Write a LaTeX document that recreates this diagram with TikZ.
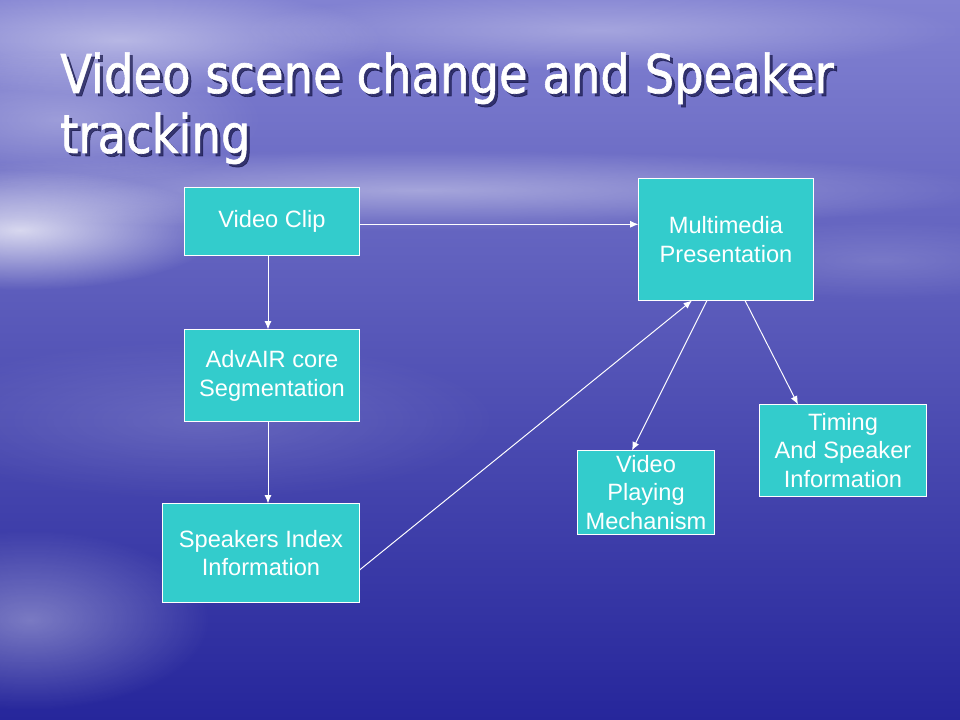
\documentclass[tikz,border=0pt]{standalone}
\usepackage{fontspec}
\setmainfont{Liberation Sans}
\newfontfamily\titlefont{DejaVu Sans}[FakeBold=1.2]
\usetikzlibrary{arrows.meta,fadings}

\definecolor{boxteal}{RGB}{51,204,204}
\definecolor{skytop}{RGB}{130,130,210}
\definecolor{skymid}{RGB}{66,66,182}
\definecolor{seabot}{RGB}{38,38,155}
\definecolor{titleshade}{RGB}{20,20,70}

\tikzfading[name=soft glow, inner color=transparent!0, outer color=transparent!100]

\tikzset{
  box/.style={draw=white, line width=0.7pt, fill=boxteal, text=white, align=center,
    inner sep=0pt, font=\fontsize{16.8}{20.5}\selectfont},
  link/.style={draw=white, line width=0.7pt, -{Latex[length=6pt,width=5pt]}},
  titleline/.style={anchor=base west, inner sep=0pt, font=\titlefont\fontsize{38}{40}\selectfont},
  cloud/.style={fill=white, path fading=soft glow},
}

\begin{document}
\begin{tikzpicture}[x=0.025cm,y=-0.025cm]
  % sky and sea
  \path[top color=skytop, middle color=skymid, bottom color=seabot] (0,0) rectangle (960,720);
  \useasboundingbox (0,0) rectangle (960,720);

  \fill[cloud, opacity=0.45] (120,40) ellipse [x radius=260, y radius=55];
  \fill[cloud, opacity=0.30] (600,30) ellipse [x radius=360, y radius=40];
  \fill[cloud, opacity=0.40] (420,190) ellipse [x radius=580, y radius=40];
  \fill[cloud, opacity=0.75] (20,230) ellipse [x radius=200, y radius=60];
  \fill[cloud, opacity=0.30] (60,120) ellipse [x radius=200, y radius=70];
  \fill[cloud, opacity=0.35] (30,620) ellipse [x radius=180, y radius=90];
  \fill[cloud, opacity=0.15] (200,420) ellipse [x radius=300, y radius=80];
  \fill[cloud, opacity=0.15] (880,260) ellipse [x radius=200, y radius=40];

  % title
  \node[titleline, text=titleshade, opacity=0.7] (t1s) at (63,96) {\scalebox{0.87}[1]{Video scene change and Speaker}};
  \node[titleline, text=titleshade, opacity=0.7] (t2s) at (63,156) {\scalebox{0.87}[1]{tracking}};
  \node[titleline, text=white] (t1) at (60,93) {\scalebox{0.87}[1]{Video scene change and Speaker}};
  \node[titleline, text=white] (t2) at (60,153) {\scalebox{0.87}[1]{tracking}};

  % boxes
  \node[box, minimum width=4.35cm, minimum height=1.7cm] (clip) at (272,221.5) {Video Clip};
  \node[box, minimum width=4.35cm, minimum height=3.025cm] (media) at (726,239.5) {Multimedia\\Presentation};
  \node[box, minimum width=4.35cm, minimum height=2.275cm] (core) at (272,375.5) {AdvAIR core\\Segmentation};
  \node[box, minimum width=4.9cm, minimum height=2.45cm] (index) at (261,553) {Speakers Index\\Information};
  \node[box, minimum width=3.4cm, minimum height=2.075cm] (playing) at (646,492.5) {Video\\Playing\\Mechanism};
  \node[box, minimum width=4.15cm, minimum height=2.275cm] (timing) at (843,450.5) {Timing\\And Speaker\\Information};

  % connectors
  \draw[link] ([yshift=-0.07cm]clip.east) -- ([yshift=-0.07cm]clip.east -| media.west);
  \draw[link] ([xshift=-0.1cm]clip.south) -- ([xshift=-0.1cm]core.north);
  \draw[link] ([xshift=-0.1cm]core.south) -- ([xshift=-0.1cm]core.south |- index.north);
  \draw[link] ([yshift=-0.425cm]index.east) -- ([xshift=-0.85cm]media.south);
  \draw[link] ([xshift=-0.475cm]media.south) -- ([xshift=-0.35cm]playing.north);
  \draw[link] ([xshift=0.475cm]media.south) -- ([xshift=-1.125cm]timing.north);
\end{tikzpicture}
\end{document}
